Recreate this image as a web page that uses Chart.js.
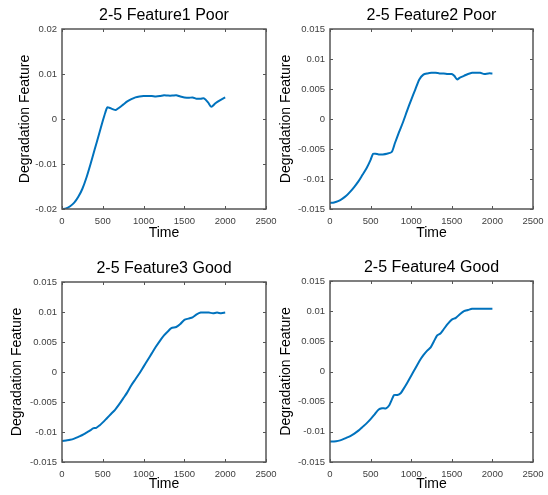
<!DOCTYPE html>
<html>
<head>
<meta charset="utf-8">
<script src="https://cdn.jsdelivr.net/npm/chart.js@4.4.1/dist/chart.umd.min.js"></script>
<style>
body{margin:0;background:#fff;}
#wrap{position:relative;width:548px;height:495px;overflow:hidden;}
#wrap canvas{position:absolute;}
</style>
</head>
<body>
<div id="wrap">
<canvas id="c1" width="290" height="248" style="left:0;top:0"></canvas>
<canvas id="c2" width="274" height="248" style="left:274px;top:0"></canvas>
<canvas id="c3" width="290" height="247" style="left:0;top:248px"></canvas>
<canvas id="c4" width="274" height="247" style="left:274px;top:248px"></canvas>
</div>
<script>
// values
const time1=[0,50,100,150,200,250,300,350,400,450,500,530,555,580,620,660,700,750,800,850,900,950,1000,1050,1100,1150,1200,1250,1300,1350,1400,1450,1500,1550,1600,1650,1700,1740,1790,1830,1880,1940,2000];
const feature1=[-0.0200,-0.0199,-0.0194,-0.0186,-0.0173,-0.0155,-0.0130,-0.0100,-0.0068,-0.0036,-0.0004,0.0014,0.0026,0.0025,0.0022,0.0020,0.0025,0.0032,0.0039,0.0044,0.0048,0.0050,0.0051,0.0051,0.0051,0.0050,0.0051,0.0053,0.0052,0.0052,0.0053,0.0050,0.0048,0.0047,0.0048,0.0045,0.0045,0.0046,0.0037,0.0027,0.0035,0.0042,0.0048];

const time2=[0,50,100,150,200,250,300,350,400,450,500,530,560,600,650,700,760,800,850,900,950,1000,1050,1100,1150,1200,1250,1300,1350,1400,1450,1500,1530,1565,1600,1650,1700,1750,1800,1850,1900,1950,2000];
const feature2=[-0.0140,-0.0139,-0.0137,-0.0133,-0.0128,-0.0121,-0.0113,-0.0104,-0.0093,-0.0082,-0.0068,-0.0058,-0.0058,-0.0059,-0.0059,-0.0058,-0.0055,-0.0040,-0.0022,-0.0005,0.0014,0.0032,0.0049,0.0066,0.0074,0.0076,0.0077,0.0077,0.0076,0.0076,0.0075,0.0075,0.0072,0.0066,0.0069,0.0072,0.0075,0.0077,0.0077,0.0077,0.0075,0.0076,0.0076];

const time3=[0,50,100,150,200,250,300,350,380,420,460,500,550,600,650,700,750,800,850,900,950,1000,1050,1100,1150,1200,1250,1300,1340,1400,1450,1500,1550,1600,1650,1700,1750,1800,1850,1900,1950,2000];
const feature3=[-0.0115,-0.0114,-0.0113,-0.0111,-0.0108,-0.0105,-0.0101,-0.0097,-0.0094,-0.0093,-0.0089,-0.0084,-0.0077,-0.0070,-0.0063,-0.0054,-0.0044,-0.0034,-0.0022,-0.0012,-0.0002,0.0009,0.0020,0.0031,0.0042,0.0052,0.0061,0.0068,0.0073,0.0075,0.0080,0.0087,0.0089,0.0091,0.0096,0.0099,0.0099,0.0099,0.0098,0.0099,0.0098,0.0099];

const time4=[0,50,100,150,200,250,300,350,400,450,500,550,600,640,690,730,760,790,830,870,900,950,1000,1050,1100,1150,1200,1240,1280,1320,1360,1400,1450,1500,1550,1600,1650,1700,1750,1800,1850,1900,1950,2000];
const feature4=[-0.0116,-0.0116,-0.0115,-0.0113,-0.0110,-0.0107,-0.0103,-0.0098,-0.0092,-0.0086,-0.0079,-0.0071,-0.0063,-0.0061,-0.0061,-0.0056,-0.0047,-0.0039,-0.0039,-0.0036,-0.0030,-0.0019,-0.0007,0.0005,0.0017,0.0027,0.0035,0.0040,0.0050,0.0060,0.0063,0.0070,0.0079,0.0086,0.0089,0.0095,0.0100,0.0102,0.0104,0.0104,0.0104,0.0104,0.0104,0.0104];

const timeTicks=[0,500,1000,1500,2000,2500];
const yTicks02=[-0.02,-0.01,0,0.01,0.02];
const yTicks015=[-0.015,-0.01,-0.005,0,0.005,0.01,0.015];

const titles=["2-5 Feature1 Poor","2-5 Feature2 Poor","2-5 Feature3 Good","2-5 Feature4 Good"];
const yLabel="Degradation Feature";
const xLabel="Time";

const FONT="'Liberation Sans', Arial, sans-serif";
const BLUE="#0072BD";

// box round the axes with inward ticks on all four sides, like matlab
const boxPlugin={
  id:"box",
  afterDatasetsDraw(chart){
    const {ctx,chartArea:a,scales:{x,y}}=chart;
    ctx.save();
    ctx.strokeStyle="#555";
    ctx.lineWidth=1.5;
    ctx.strokeRect(a.left,a.top,a.right-a.left,a.bottom-a.top);
    ctx.lineWidth=1;
    ctx.beginPath();
    x.ticks.forEach(t=>{
      const px=Math.round(x.getPixelForValue(t.value))+0.5;
      ctx.moveTo(px,a.bottom);ctx.lineTo(px,a.bottom-3);
      ctx.moveTo(px,a.top);ctx.lineTo(px,a.top+3);
    });
    y.ticks.forEach(t=>{
      const py=Math.round(y.getPixelForValue(t.value))+0.5;
      ctx.moveTo(a.left,py);ctx.lineTo(a.left+3,py);
      ctx.moveTo(a.right,py);ctx.lineTo(a.right-3,py);
    });
    ctx.stroke();
    ctx.restore();
  }
};

function makeChart(id,title,times,values,yTicks,lay){
  const pts=times.map((t,i)=>({x:t,y:values[i]}));
  return new Chart(document.getElementById(id),{
    type:"line",
    data:{datasets:[{data:pts,borderColor:BLUE,borderWidth:2,pointRadius:0,tension:0.25,fill:false}]},
    options:{
      responsive:false,
      animation:false,
      devicePixelRatio:1,
      layout:{padding:{left:0,top:0,bottom:0,right:lay.right}},
      plugins:{
        legend:{display:false},
        tooltip:{enabled:false},
        title:{display:true,text:title,fullSize:false,color:"#000",
          font:{family:FONT,size:16,weight:"normal"},
          padding:{top:lay.titleTop,bottom:lay.titleBottom}}
      },
      scales:{
        x:{type:"linear",min:0,max:2500,
          afterBuildTicks:s=>{s.ticks=timeTicks.map(v=>({value:v}));},
          afterFit:s=>{s.height=lay.xH;s.paddingLeft=0;s.paddingRight=0;},
          grid:{display:false,drawTicks:false},
          border:{display:false},
          ticks:{padding:7,color:"#404040",font:{family:FONT,size:9.5},callback:v=>String(v),maxRotation:0},
          title:{display:true,text:xLabel,color:"#000",font:{family:FONT,size:14},padding:{top:0,bottom:lay.xTitleB}}
        },
        y:{type:"linear",min:yTicks[0],max:yTicks[yTicks.length-1],
          afterBuildTicks:s=>{s.ticks=yTicks.map(v=>({value:v}));},
          afterFit:s=>{s.width=lay.yW;s.paddingTop=0;s.paddingBottom=0;},
          grid:{display:false,drawTicks:false},
          border:{display:false},
          ticks:{padding:5,color:"#404040",font:{family:FONT,size:9.5},callback:v=>String(+Number(v).toFixed(4))},
          title:{display:true,text:yLabel,color:"#000",font:{family:FONT,size:14},padding:{top:lay.yTitleT,bottom:0}}
        }
      }
    },
    plugins:[boxPlugin]
  });
}

makeChart("c1",titles[0],time1,feature1,yTicks02,{right:24,yW:62,xH:39,titleTop:6,titleBottom:3.8,xTitleB:6.6,yTitleT:17});
makeChart("c2",titles[1],time2,feature2,yTicks015,{right:15,yW:56,xH:39,titleTop:6,titleBottom:3.8,xTitleB:6.6,yTitleT:4});
makeChart("c3",titles[2],time3,feature3,yTicks015,{right:24,yW:62,xH:33,titleTop:11,titleBottom:3.8,xTitleB:2,yTitleT:9});
makeChart("c4",titles[3],time4,feature4,yTicks015,{right:15,yW:56,xH:33,titleTop:10,titleBottom:3.8,xTitleB:2,yTitleT:4});
</script>
</body>
</html>
